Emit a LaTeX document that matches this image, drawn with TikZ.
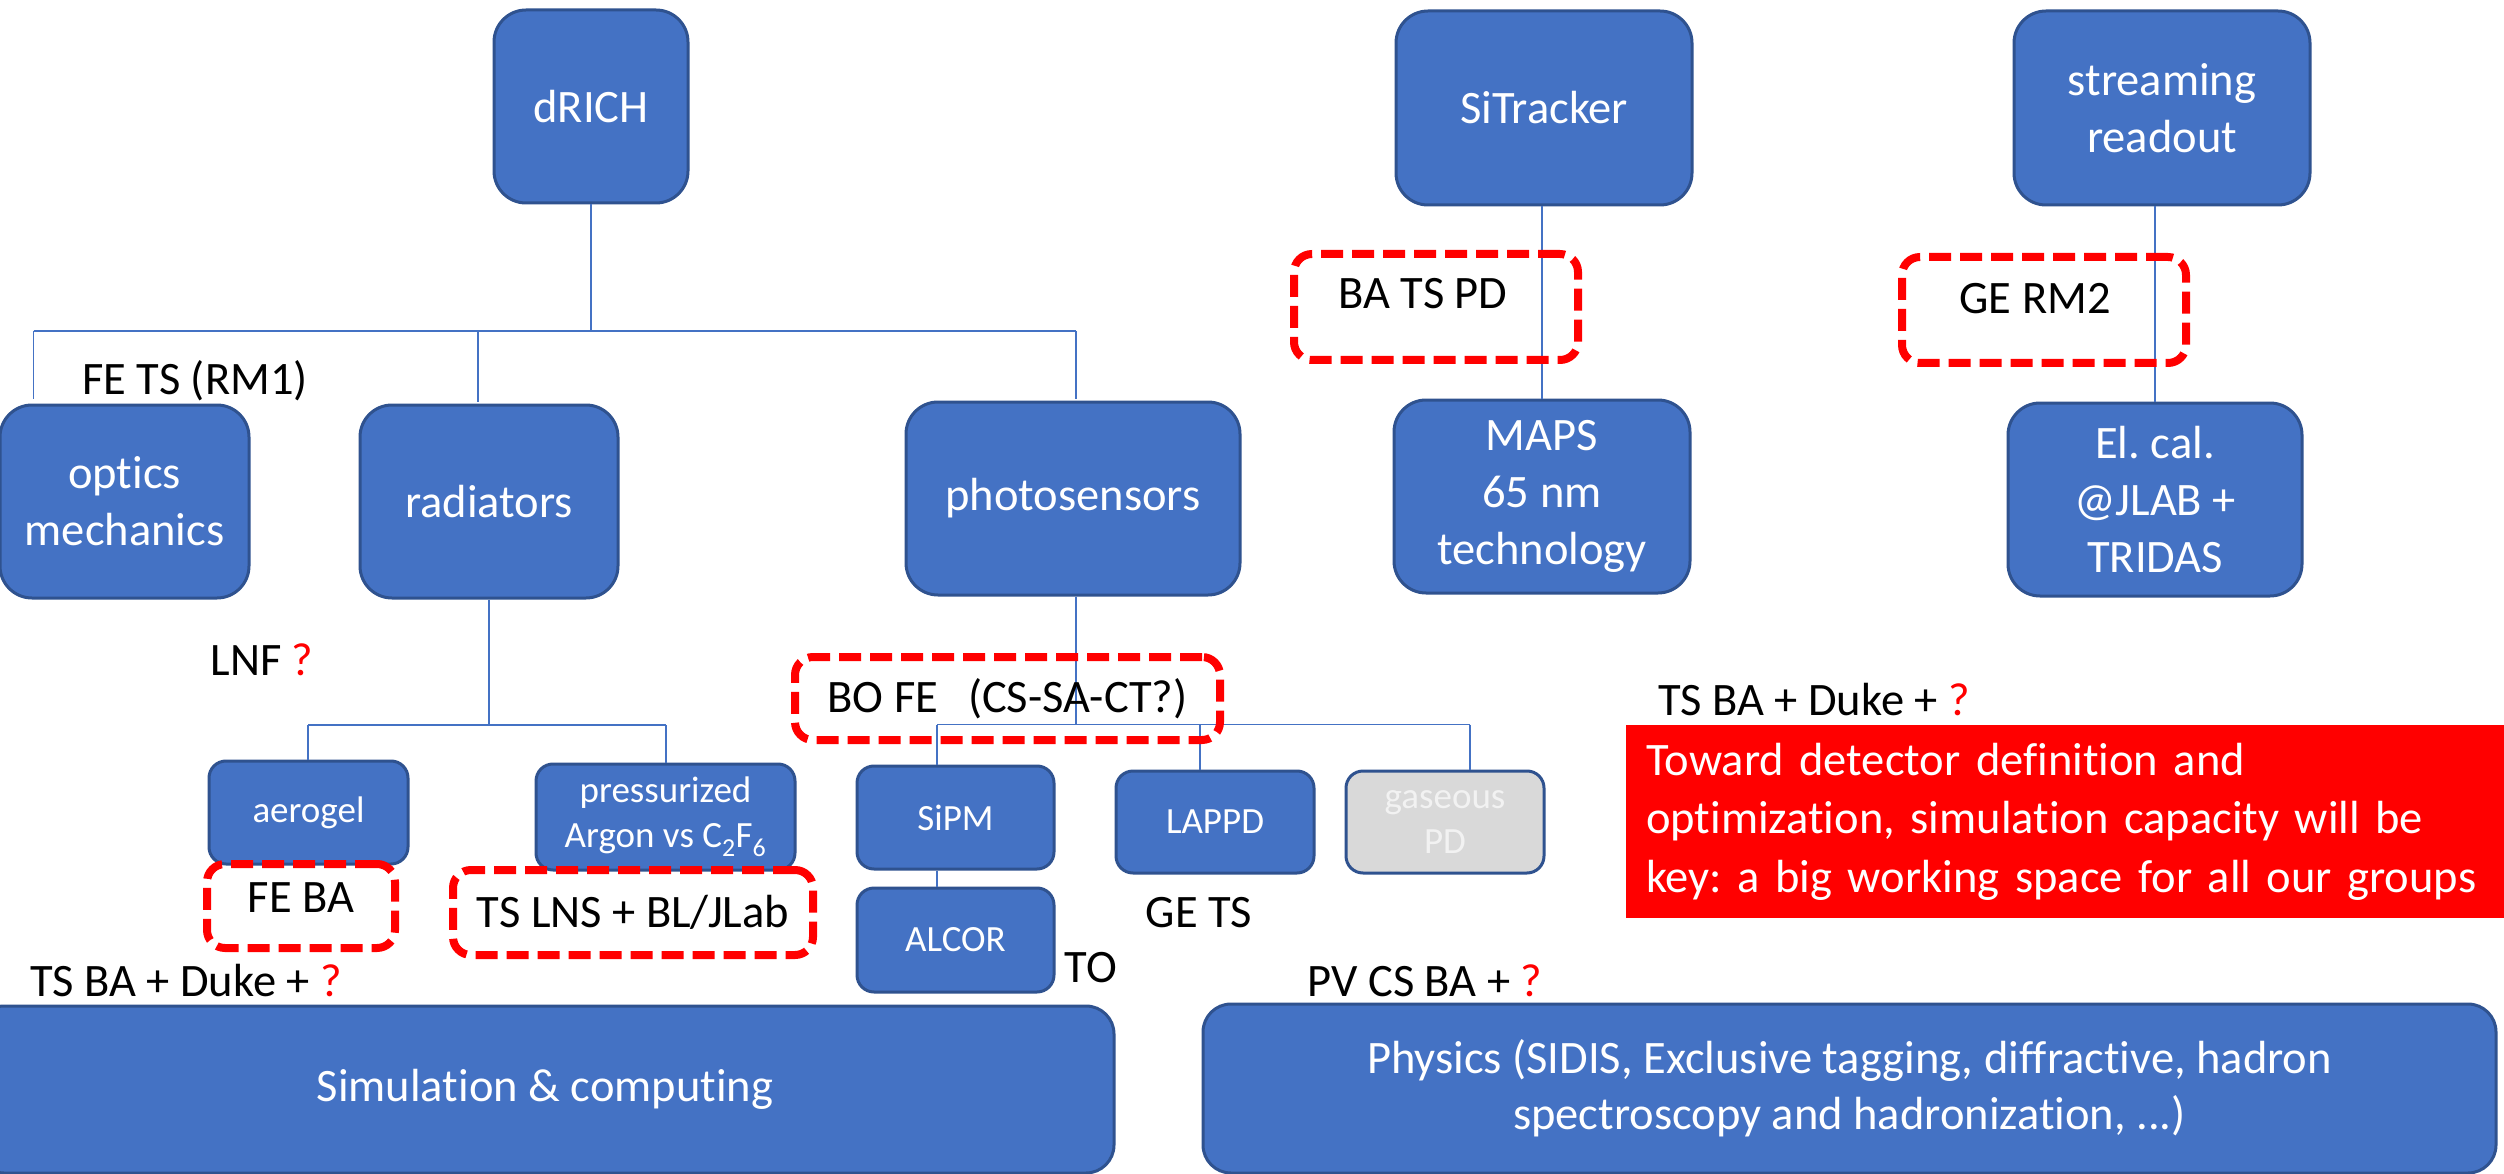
\documentclass[tikz,border=0pt]{standalone}
\usepackage{fontspec}
\setmainfont{Carlito}[Ligatures=NoCommon]
\definecolor{boxblue}{HTML}{4472C4}
\definecolor{boxedge}{HTML}{2F528F}
\definecolor{pdgrey}{HTML}{D9D9D9}
\definecolor{pdtext}{HTML}{F2F2F2}
\definecolor{alarm}{HTML}{FF0000}
\tikzset{
  bigbox/.style={draw=boxedge, fill=boxblue, line width=3pt, text=white, align=center,
    inner sep=0pt, rounded corners=32pt, font=\fontsize{46.5}{57}\selectfont},
  smallbox/.style={bigbox, rounded corners=17pt, font=\fontsize{37}{45}\selectfont},
  dbox/.style={draw=alarm, line width=8pt, dash pattern=on 22pt off 9pt, rounded corners=18pt,
    inner sep=0pt, align=center, font=\fontsize{46.5}{57}\selectfont},
  lbl/.style={inner sep=0pt, font=\fontsize{46.5}{57}\selectfont},
  conn/.style={draw=boxblue, line width=1.6pt},
}
\frenchspacing
\begin{document}
\begin{tikzpicture}[x=1pt,y=-1pt]
\useasboundingbox (0,0) rectangle (2504,1174);
\fill[white] (0,0) rectangle (2504,1174);

% top level
\node[bigbox, minimum width=194pt, minimum height=193pt] (drich) at (591,106.5) {dRICH};
\node[bigbox, minimum width=296pt, minimum height=194pt] (sitr) at (1544,108) {SiTracker};
\node[bigbox, minimum width=296pt, minimum height=194pt] (stream) at (2162,108) {streaming\\readout};

% second level
\node[bigbox, minimum width=249pt, minimum height=193pt] (optics) at (124.5,501.5) {optics\\mechanics};
\node[bigbox, minimum width=258pt, minimum height=193pt] (rad) at (489,501.5) {radiators};
\node[bigbox, minimum width=334pt, minimum height=193pt] (photo) at (1073,498.5) {photosensors};
\node[bigbox, minimum width=296pt, minimum height=193pt] (maps) at (1542,496.5) {MAPS\\65 nm\\technology};
\node[bigbox, minimum width=294pt, minimum height=193pt] (elcal) at (2155,499.5) {El. cal.\\@JLAB +\\TRIDAS};

% third level
\node[smallbox, minimum width=199pt, minimum height=103pt] (aero) at (308.5,812.5) {aerogel};
\node[smallbox, minimum width=259pt, minimum height=106pt] (press) at (665.5,817) {pressurized\\Argon vs C\textsubscript{2}F\textsubscript{6}};
\node[smallbox, minimum width=197pt, minimum height=103pt] (sipm) at (955.5,817.5) {SiPM};
\node[smallbox, minimum width=197pt, minimum height=104pt] (alcor) at (955.5,940) {ALCOR};
\node[smallbox, minimum width=198pt, minimum height=102pt] (lappd) at (1215,822) {LAPPD};
\node[smallbox, fill=pdgrey, text=pdtext, minimum width=198pt, minimum height=102pt] (gas) at (1445,822) {gaseous\\PD};

% bottom boxes
\node[bigbox, rounded corners=28pt, minimum width=1138pt, minimum height=167pt] (sim) at (545,1089.5) {Simulation \& computing};
\node[bigbox, rounded corners=28pt, minimum width=1293pt, minimum height=169pt,
  font=\fontsize{46.5}{56}\selectfont] (phys) at (1849.5,1088.5)
  {Physics (SIDIS, Exclusive tagging, diffractive, hadron\\spectroscopy and hadronization, ...)};

% red note
\node[fill=alarm, text=white, minimum width=878pt, minimum height=193pt, inner xsep=20pt, inner ysep=0pt,
  text width=838pt, align=left, anchor=north west, font=\fontsize{46.5}{58.5}\selectfont] (note) at (1626,725)
  {Toward detector definition and\\optimization, simulation capacity will be\\key: a big working space for all our groups};

% connectors: dRICH tree
\coordinate (barL) at (33.5,331);
\coordinate (barR) at (1076,331);
\coordinate (barM) at (478,331);
\draw[conn] (drich.south) -- (drich.south |- barL);
\draw[conn] (barL) -- (barR);
\draw[conn, shorten >=5pt] (barL) -- (barL |- optics.north);
\draw[conn, shorten >=2pt] (barM) -- (barM |- rad.north);
\draw[conn, shorten >=2pt] (barR) -- (barR |- photo.north);

% radiators tree
\coordinate (rbL) at (308,725);
\coordinate (rbR) at (666,725);
\draw[conn] (rad.south) -- (rad.south |- rbL);
\draw[conn] (rbL) -- (rbR);
\draw[conn] (rbL) -- (rbL |- aero.north);
\draw[conn] (rbR) -- (rbR |- press.north);

% photosensors tree
\coordinate (pbL) at (937,724.5);
\coordinate (pbM) at (1200,724.5);
\coordinate (pbR) at (1470,724.5);
\draw[conn] (photo.south -| barR) -- (pbL -| barR);
\draw[conn] (pbL) -- (pbR);
\draw[conn] (pbL) -- (pbL |- sipm.north);
\draw[conn] (pbM) -- (pbM |- lappd.north);
\draw[conn] (pbR) -- (pbR |- gas.north);
\draw[conn] (pbL |- sipm.south) -- (pbL |- alcor.north);

% SiTracker and streaming
\draw[conn] (maps.north |- sitr.south) -- (maps.north);
\draw[conn] (elcal.north |- stream.south) -- (elcal.north);

% dashed boxes
\node[dbox, minimum width=284pt, minimum height=106pt, text depth=28pt] (batspd) at (1436,307) {BA TS PD\hspace{26pt}};
\node[dbox, minimum width=284pt, minimum height=106pt, text depth=24pt] (germ) at (2044,310) {GE RM2\hspace{18pt}};
\node[dbox, minimum width=425pt, minimum height=83pt] (bofe) at (1007.5,698.5) {BO FE\hspace{30pt}(CS-SA-CT?)};
\node[dbox, minimum width=188pt, minimum height=84pt, text depth=16pt] (feba) at (301,906) {FE BA};
\node[dbox, minimum width=360pt, minimum height=85pt] (tslns) at (633,912.5) {TS LNS + BL/JLab};

% plain labels
\node[lbl] (fets) at (195,381) {FE TS (RM1)};
\node[lbl] (lnf) at (262,660) {LNF \textcolor{alarm}{?}};
\node[lbl] (tsbaL) at (186,981) {TS BA + Duke + \textcolor{alarm}{?}};
\node[lbl] (to) at (1091,968) {TO};
\node[lbl] (gets) at (1199,913) {GE TS};
\node[lbl] (pvcs) at (1425,981) {PV CS BA + \textcolor{alarm}{?}};
\node[lbl] (tsbaR) at (1814,700) {TS BA + Duke + \textcolor{alarm}{?}};
\end{tikzpicture}
\end{document}
